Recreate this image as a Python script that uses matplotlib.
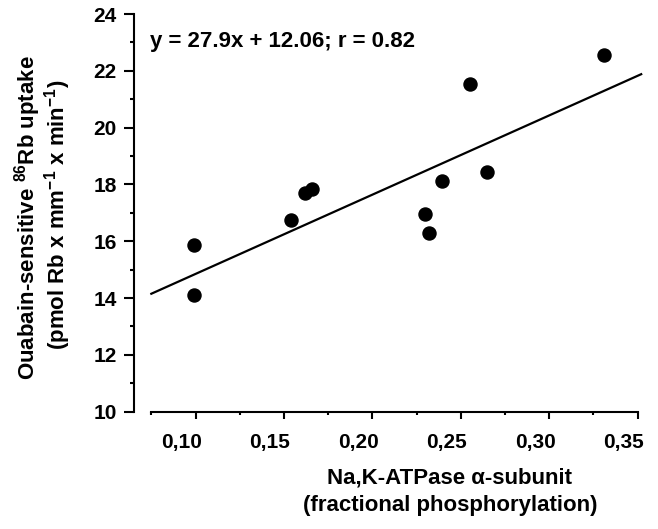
import matplotlib
matplotlib.use("Agg")
import matplotlib.pyplot as plt
import matplotlib.transforms as mtransforms
import numpy as np

plt.rcParams['font.family'] = ['Liberation Sans', 'DejaVu Sans']
plt.rcParams['font.weight'] = 'bold'
plt.rcParams['mathtext.fontset'] = 'custom'
plt.rcParams['mathtext.rm'] = 'Liberation Sans:bold'
plt.rcParams['mathtext.default'] = 'rm'

# data
phos = [0.0992, 0.0990, 0.1538, 0.1619, 0.1657, 0.2297, 0.2320,
        0.2392, 0.2552, 0.2650, 0.3310]
uptake = [15.86, 14.11, 16.75, 17.71, 17.83, 16.95, 16.29,
          18.12, 21.54, 18.45, 22.54]
slope = 27.9
intercept = 12.06
fit_x = [0.075, 0.352]
x_ticks = [0.10, 0.15, 0.20, 0.25, 0.30, 0.35]
x_ticklabels = ['0,10', '0,15', '0,20', '0,25', '0,30', '0,35']
y_ticks = [10, 12, 14, 16, 18, 20, 22, 24]

fig = plt.figure(figsize=(6.58, 5.29), dpi=100)
ax = fig.add_axes([134/658, 1-411.7/529, (646.5-134)/658, (411.7-14)/529])

ax.plot(phos, uptake, 'o', color='black', markersize=9.4, clip_on=False)
fy = [slope*v + intercept for v in fit_x]
ax.plot(fit_x, fy, '-', color='black', lw=1.6, clip_on=False)

ax.set_xlim(0.0652, 0.355)
ax.set_ylim(10, 24)
ax.spines['top'].set_visible(False)
ax.spines['right'].set_visible(False)
ax.spines['bottom'].set_bounds(0.075, 0.35)
ax.spines['left'].set_bounds(10, 24)
for s in ('left', 'bottom'):
    ax.spines[s].set_linewidth(1.5)

ax.set_xticks(x_ticks)
ax.set_xticklabels(x_ticklabels)
ax.set_xticks([0.075, 0.125, 0.175, 0.225, 0.275, 0.325], minor=True)
ax.set_yticks(y_ticks)
ax.set_yticks([11, 13, 15, 17, 19, 21, 23], minor=True)

ax.tick_params(axis='y', which='major', direction='out', length=7.5, width=1.5,
               labelsize=15, pad=5)
ax.tick_params(axis='y', which='minor', direction='out', length=3, width=1.5)
ax.tick_params(axis='x', which='major', direction='out', length=5, width=1.5,
               labelsize=15, pad=10)
ax.tick_params(axis='x', which='minor', direction='out', length=2.5, width=1.5)

offset = mtransforms.ScaledTranslation(-14/100, 0, fig.dpi_scale_trans)
for lab in ax.get_xticklabels():
    lab.set_transform(lab.get_transform() + offset)
for lab in ax.get_xticklabels() + ax.get_yticklabels():
    lab.set_fontweight('bold')

ax.text(150/658, 1-42/529, 'y = 27.9x + 12.06; r = 0.82', transform=fig.transFigure,
        fontsize=16, fontweight='bold', ha='left', va='center')

fig.text(28/658, 1-218/529, 'Ouabain-sensitive $^{86}$Rb uptake', rotation=90,
         fontsize=16, fontweight='bold', ha='center', va='center')
fig.text(58/658, 1-215/529, '(pmol Rb x mm$^{-1}$ x min$^{-1}$)', rotation=90,
         fontsize=16, fontweight='bold', ha='center', va='center')

fig.text(450/658, 1-478/529, 'Na,K-ATPase α-subunit', fontsize=16,
         fontweight='bold', ha='center', va='center')
fig.text(450/658, 1-505/529, '(fractional phosphorylation)', fontsize=16,
         fontweight='bold', ha='center', va='center')

fig.savefig('out.png', dpi=100)
